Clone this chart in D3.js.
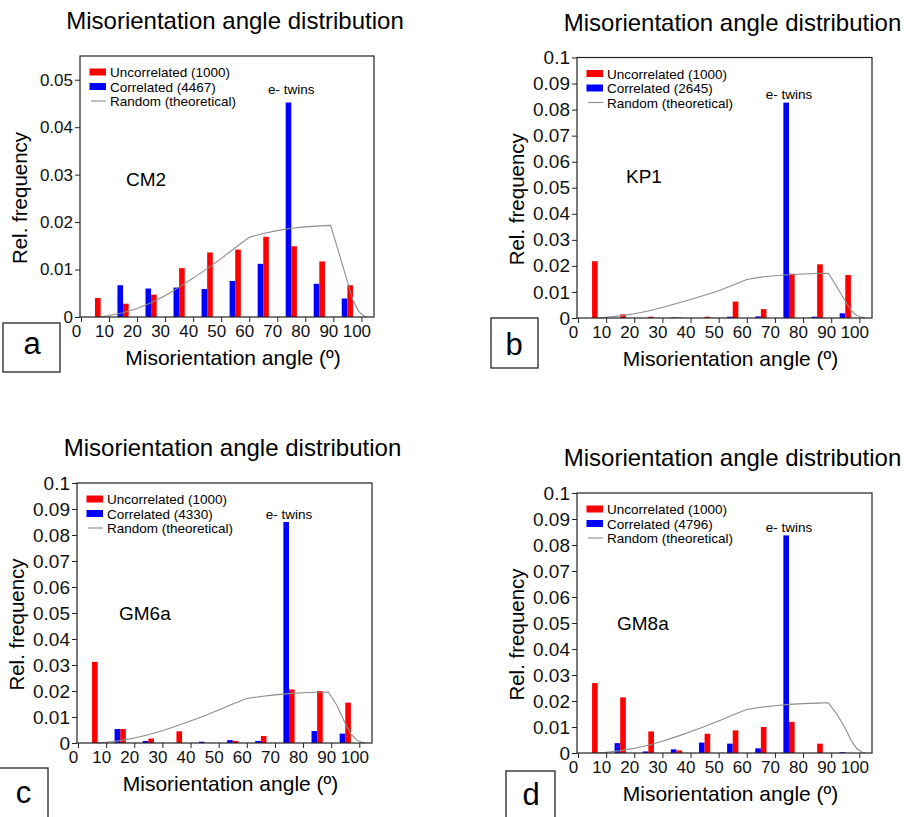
<!DOCTYPE html>
<html>
<head>
<meta charset="utf-8">
<script src="https://cdn.jsdelivr.net/npm/d3@7"></script>
<style>
  body { margin: 0; background: #fff; }
  svg { display: block; font-family: 'Liberation Sans', Arial, sans-serif; }
</style>
</head>
<body>
<svg width="904" height="817"></svg>
<script>
'use strict'

// bin centres (degrees)
const bins = [5, 15, 25, 35, 45, 55, 65, 75, 85, 95]

const panelLetters = ['a', 'b', 'c', 'd']
const sampleNames = ['CM2', 'KP1', 'GM6a', 'GM8a']
const uncorrelatedCounts = [1000, 1000, 1000, 1000]
const correlatedCounts = [4467, 2645, 4330, 4796]

// uncorrelated (red) and correlated (blue) relative frequencies
const uncorrA = [0.0040, 0.0028, 0.0047, 0.0103, 0.0136, 0.0142, 0.0169, 0.0149, 0.0117, 0.0067]
const corrA = [0, 0.0067, 0.0060, 0.0062, 0.0059, 0.0076, 0.0112, 0.0452, 0.0070, 0.0039]
const uncorrB = [0.0218, 0.0014, 0.0005, 0.0002, 0.0005, 0.0063, 0.0034, 0.0170, 0.0206, 0.0165]
const corrB = [0, 0, 0, 0.0002, 0, 0.0005, 0.0006, 0.0827, 0.0005, 0.0018]
const uncorrC = [0.0312, 0.0054, 0.0017, 0.0045, 0, 0.0008, 0.0027, 0.0206, 0.0200, 0.0155]
const corrC = [0, 0.0054, 0.0008, 0, 0.0005, 0.0011, 0.0008, 0.0850, 0.0046, 0.0036]
const uncorrD = [0.0269, 0.0214, 0.0083, 0.0010, 0.0074, 0.0087, 0.0100, 0.0120, 0.0036, 0]
const corrD = [0, 0.0038, 0.0006, 0.0014, 0.0040, 0.0036, 0.0018, 0.0837, 0, 0.0003]

// random (theoretical) curve
const randomAngles = [7, 10, 15, 20, 25, 30, 35, 40, 45, 50, 55, 60, 65, 70, 75, 80, 85, 89, 92, 95, 97, 99, 101, 102]
const randomA = [0, 0.0003, 0.0009, 0.0018, 0.0030, 0.0045, 0.0063, 0.0082, 0.0102, 0.0123, 0.0146, 0.0168, 0.0176, 0.0182, 0.0187, 0.0190, 0.0192, 0.0193, 0.0135, 0.0075, 0.0035, 0.0012, 0.0002, 0]
const randomB = [0, 0.0003, 0.0008, 0.0016, 0.0027, 0.0040, 0.0056, 0.0071, 0.0087, 0.0105, 0.0126, 0.0148, 0.0157, 0.0162, 0.0166, 0.0169, 0.0171, 0.0172, 0.0120, 0.0065, 0.0030, 0.0010, 0.0002, 0]
const randomC = [0, 0.0003, 0.0009, 0.0019, 0.0032, 0.0047, 0.0065, 0.0085, 0.0105, 0.0127, 0.0150, 0.0171, 0.0179, 0.0185, 0.0190, 0.0193, 0.0195, 0.0196, 0.0145, 0.0075, 0.0035, 0.0012, 0.0002, 0]
const randomD = [0, 0.0003, 0.0009, 0.0018, 0.0030, 0.0045, 0.0063, 0.0082, 0.0102, 0.0123, 0.0146, 0.0167, 0.0176, 0.0182, 0.0187, 0.0190, 0.0192, 0.0193, 0.0150, 0.0095, 0.0050, 0.0018, 0.0003, 0]

// axis ticks
const xTicks = [0, 10, 20, 30, 40, 50, 60, 70, 80, 90, 100]
const yTicksA = [0, 0.01, 0.02, 0.03, 0.04, 0.05]
const yTicksFull = [0, 0.01, 0.02, 0.03, 0.04, 0.05, 0.06, 0.07, 0.08, 0.09, 0.1]
const yMax = [0.055, 0.1, 0.1, 0.1]

const uncorrSeries = [uncorrA, uncorrB, uncorrC, uncorrD]
const corrSeries = [corrA, corrB, corrC, corrD]
const randomSeries = [randomA, randomB, randomC, randomD]
const yTickSets = [yTicksA, yTicksFull, yTicksFull, yTicksFull]

// layout of each panel (frame box, label spots, letter box)
const layout = [
  { left: 80, top: 56, w: 294, h: 261, yFont: 17, sample: [46, 130], twinGap: 9,
    box: [3, 323, 57, 49], letter: [32, 354] },
  { left: 577, top: 57.5, w: 295, h: 260.5, yFont: 19, sample: [49, 125], twinGap: 3.5,
    box: [491, 318, 47, 50], letter: [514, 355] },
  { left: 77, top: 483, w: 295, h: 260, yFont: 19, sample: [42, 137], twinGap: 3.5,
    box: [-1, 768, 49, 60], letter: [23.5, 803] },
  { left: 577, top: 493, w: 295, h: 260, yFont: 19, sample: [40, 137], twinGap: 3.5,
    box: [506, 771, 49, 60], letter: [531, 805] }
]

const red = '#ff0000',
  blue = '#0000ff',
  grey = '#8c8c8c'

const barW = 2 // degrees

const svg = d3.select('svg')

panelLetters.forEach((letter, p) => {
  const L = layout[p]
  const g = svg.append('g').attr('class', 'panel-' + letter)

  const x = d3
    .scaleLinear()
    .domain([0, 104.5])
    .range([L.left + 1, L.left + L.w])

  const y = d3
    .scaleLinear()
    .domain([0, yMax[p]])
    .range([L.top + L.h, L.top])

  // title
  g.append('text')
    .attr('x', L.left + L.w / 2 + 8)
    .attr('y', L.top - 27)
    .attr('text-anchor', 'middle')
    .style('font-size', '24px')
    .text('Misorientation angle distribution')

  // bars
  const rows = bins.map((b, i) => ({ bin: b, u: uncorrSeries[p][i], c: corrSeries[p][i] }))

  g.append('g')
    .selectAll('rect')
    .data(rows.filter(d => d.c > 0))
    .enter()
    .append('rect')
    .attr('x', d => x(d.bin - barW))
    .attr('y', d => y(d.c))
    .attr('width', d => x(d.bin) - x(d.bin - barW))
    .attr('height', d => y(0) - y(d.c))
    .style('fill', blue)

  g.append('g')
    .selectAll('rect')
    .data(rows.filter(d => d.u > 0))
    .enter()
    .append('rect')
    .attr('x', d => x(d.bin))
    .attr('y', d => y(d.u))
    .attr('width', d => x(d.bin + barW) - x(d.bin))
    .attr('height', d => y(0) - y(d.u))
    .style('fill', red)

  // random curve
  const line = d3
    .line()
    .x(d => x(d[0]))
    .y(d => y(d[1]))

  g.append('path')
    .datum(randomAngles.map((a, i) => [a, randomSeries[p][i]]))
    .attr('d', line)
    .style('fill', 'none')
    .style('stroke', grey)
    .style('stroke-width', 1.1)

  // frame
  g.append('rect')
    .attr('x', L.left)
    .attr('y', L.top)
    .attr('width', L.w)
    .attr('height', L.h)
    .style('fill', 'none')
    .style('stroke', '#222')
    .style('stroke-width', 1.2)

  // axes
  const xAxis = g
    .append('g')
    .attr('transform', 'translate(0,' + (L.top + L.h) + ')')
    .call(
      d3
        .axisBottom(x)
        .tickValues(xTicks)
        .tickSize(5)
        .tickPadding(3)
        .tickFormat(d3.format('d'))
    )
  xAxis.select('.domain').remove()
  xAxis.selectAll('.tick line').style('stroke', '#222')
  xAxis
    .selectAll('.tick text')
    .attr('dx', -5)
    .style('font-size', '17px')
    .style('font-family', "'Liberation Sans', Arial, sans-serif")
    .style('fill', '#111')

  const yAxis = g
    .append('g')
    .attr('transform', 'translate(' + L.left + ',0)')
    .call(
      d3
        .axisLeft(y)
        .tickValues(yTickSets[p])
        .tickSize(5)
        .tickPadding(2)
        .tickFormat(d3.format('.2~f'))
    )
  yAxis.select('.domain').remove()
  yAxis.selectAll('.tick line').style('stroke', '#222')
  yAxis
    .selectAll('.tick text')
    .style('font-size', L.yFont + 'px')
    .style('font-family', "'Liberation Sans', Arial, sans-serif")
    .style('fill', '#111')

  // axis titles
  g.append('text')
    .attr('x', L.left + L.w / 2 + 6)
    .attr('y', L.top + L.h + 48)
    .attr('text-anchor', 'middle')
    .style('font-size', '21px')
    .text('Misorientation angle (º)')

  g.append('text')
    .attr('transform', 'translate(' + (L.left - 53) + ',' + (L.top + L.h / 2 + 11.5) + ') rotate(-90)')
    .attr('text-anchor', 'middle')
    .style('font-size', '20.5px')
    .text('Rel. frequency')

  // legend
  const lx = L.left + 9.5,
    ly = L.top + 21
  const legend = g.append('g').style('font-size', '13.5px')
  const entries = [
    { label: 'Uncorrelated (' + uncorrelatedCounts[p] + ')', color: red, type: 'box' },
    { label: 'Correlated (' + correlatedCounts[p] + ')', color: blue, type: 'box' },
    { label: 'Random (theoretical)', color: grey, type: 'line' }
  ]
  entries.forEach((e, i) => {
    const by = ly + i * 14.5
    if (e.type === 'box') {
      legend
        .append('rect')
        .attr('x', lx)
        .attr('y', by - 8.5)
        .attr('width', 16.5)
        .attr('height', 7)
        .style('fill', e.color)
    } else {
      legend
        .append('line')
        .attr('x1', lx + 1.5)
        .attr('x2', lx + 16.5)
        .attr('y1', by - 5)
        .attr('y2', by - 5)
        .style('stroke', e.color)
        .style('stroke-width', 1.1)
    }
    legend
      .append('text')
      .attr('x', lx + 20.5)
      .attr('y', by)
      .text(e.label)
  })

  // e- twins label over the 75° correlated bar
  g.append('text')
    .attr('x', x(75))
    .attr('y', y(corrSeries[p][bins.indexOf(75)]) - L.twinGap)
    .attr('text-anchor', 'middle')
    .style('font-size', '13.5px')
    .text('e- twins')

  // sample name
  g.append('text')
    .attr('x', L.left + L.sample[0])
    .attr('y', L.top + L.sample[1])
    .style('font-size', '19px')
    .text(sampleNames[p])

  // panel letter box
  g.append('rect')
    .attr('x', L.box[0])
    .attr('y', L.box[1])
    .attr('width', L.box[2])
    .attr('height', L.box[3])
    .style('fill', '#fff')
    .style('stroke', '#222')
    .style('stroke-width', 1.3)

  g.append('text')
    .attr('x', L.letter[0])
    .attr('y', L.letter[1])
    .attr('text-anchor', 'middle')
    .style('font-size', '31px')
    .text(letter)
})
</script>
</body>
</html>
